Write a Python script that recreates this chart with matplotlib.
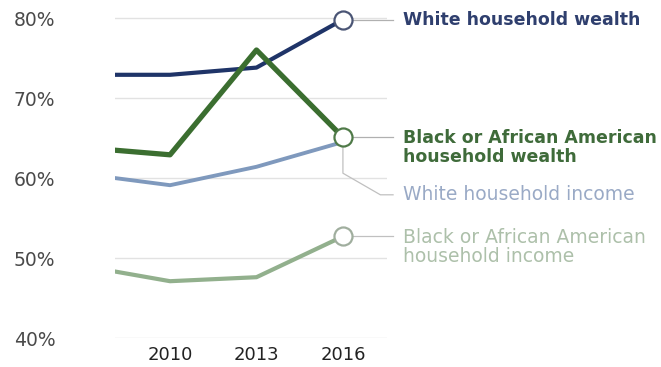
import matplotlib.pyplot as plt

plt.rcParams['font.family'] = ['DejaVu Sans']

# anos das pesquisas (o primeiro fica cortado pela borda esquerda)
anos = [2007, 2010, 2013, 2016]

riqueza_branca = [72.9, 72.9, 73.8, 79.8]
riqueza_negra = [63.8, 62.9, 76.0, 65.1]
renda_branca = [60.5, 59.1, 61.4, 64.5]
renda_negra = [49.0, 47.1, 47.6, 52.7]

rotulos = ['White household wealth',
           'Black or African American\nhousehold wealth',
           'White household income',
           'Black or African American\nhousehold income']
cores_linha = ['#1f3468', '#3b6e30', '#7f99bd', '#92b08d']
cores_texto = ['#2f3f6e', '#3f6b3a', '#9aaac6', '#adc0aa']
cores_borda = ['#4a5575', '#4f7a48', '#9aa6bb', '#a0ae9e']
pesos = ['bold', 'bold', 'normal', 'normal']
tamanhos = [12.5, 12.5, 13.5, 13.5]
larguras = [3.0, 3.8, 2.8, 3.0]

ticks_y = [40, 50, 60, 70, 80]
ticks_x = [2010, 2013, 2016]

fig = plt.figure(figsize=(6.61, 3.67), dpi=100)
ax = fig.add_axes([115 / 661, 1 - 338 / 367, 272 / 661, 336 / 367])
ax.set_xlim(2008.09, 2017.53)
ax.set_ylim(40, 82)

series = [riqueza_branca, riqueza_negra, renda_branca, renda_negra]
for s, c, lw in zip(series, cores_linha, larguras):
    ax.plot(anos, s, color=c, lw=lw, solid_capstyle='butt', zorder=3)

# conectores e rótulos à direita
x_fim = 2017.74
x_txt = 2018.1
ax.plot([2016, x_fim], [riqueza_branca[-1]] * 2, color='#b0b0b0', lw=0.9, clip_on=False, zorder=2)
ax.plot([2016, x_fim], [riqueza_negra[-1]] * 2, color='#b0b0b0', lw=0.9, clip_on=False, zorder=2)
ax.plot([2016, 2016, 2017.3, x_fim], [renda_branca[-1], 60.6, 57.9, 57.9],
        color='#c0c0c0', lw=0.9, clip_on=False, zorder=2)
ax.plot([2016, x_fim], [renda_negra[-1]] * 2, color='#c0c0c0', lw=0.9, clip_on=False, zorder=2)

pos_texto = [riqueza_branca[-1], riqueza_negra[-1] + 1.0, 57.9, renda_negra[-1] + 1.1]
for s, rot, c, y, w, mc, fs in zip(series, rotulos, cores_texto, pos_texto, pesos, cores_borda, tamanhos):
    if s is not renda_branca:
        ax.plot(2016, s[-1], 'o', ms=13, mfc='white', mec=mc, mew=1.6,
                clip_on=False, zorder=5)
    ax.text(x_txt, y, rot, color=c, fontsize=fs, fontweight=w,
            va='top' if '\n' in rot else 'center', ha='left', linespacing=1.05,
            transform=ax.transData, clip_on=False)

ax.set_yticks(ticks_y)
ax.set_yticklabels([f'{v}%' for v in ticks_y])
ax.set_xticks(ticks_x)
ax.set_xticklabels([str(v) for v in ticks_x])
ax.tick_params(axis='y', length=0, pad=43, labelsize=13.5, labelcolor='#4a4a4a')
ax.tick_params(axis='x', length=0, pad=6, labelsize=13, labelcolor='#222222')
ax.grid(axis='y', color='#e2e2e2', lw=1)
ax.set_axisbelow(True)
for sp in ax.spines.values():
    sp.set_visible(False)

fig.savefig('out.png', dpi=100)
